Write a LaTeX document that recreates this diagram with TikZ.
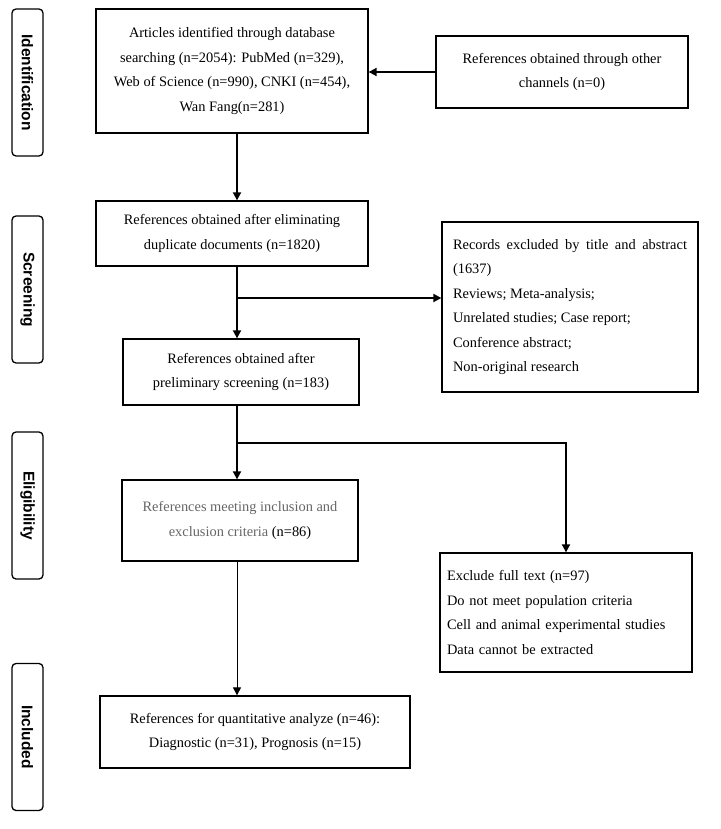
\documentclass[tikz,border=0pt]{standalone}
\usepackage{fontspec}
\setmainfont{Liberation Serif}
\newfontfamily\stagefont{Liberation Sans}
\usetikzlibrary{arrows.meta}
\begin{document}
\begin{tikzpicture}[x=1pt, y=-1pt,
    box/.style={draw, line width=1.3pt, inner sep=0pt, align=center,
        font=\fontsize{14.4}{24.5}\selectfont},
    stage/.style={draw, line width=1.3pt, rounded corners=4pt, rotate=-90,
        minimum width=147, minimum height=31, inner sep=0pt,
        font=\stagefont\bfseries\fontsize{15.5}{18}\selectfont},
    flow/.style={line width=1.8pt, -{Triangle[length=8pt,width=8pt]}},
    thinflow/.style={line width=0.9pt, -{Triangle[length=8pt,width=8pt]}}]
    \useasboundingbox (0,0) rectangle (720,829);
    % stages
    \node[stage] (ident) at (27.5,82.5) {Identification};
    \node[stage] (screen) at (27.5,289.5) {Screening};
    \node[stage] (elig) at (27.5,505.5) {Eligibility};
    \node[stage] (incl) at (27.5,737) {Included};
    % boxes
    \node[box, minimum width=272, minimum height=124] (search) at (232,71)
        {Articles identified through database\\searching (n=2054): PubMed (n=329),\\Web of Science (n=990), CNKI (n=454),\\Wan Fang(n=281)};
    \node[box, minimum width=252, minimum height=72] (other) at (562,72)
        {References obtained through other\\channels (n=0)};
    \node[box, minimum width=272, minimum height=65] (dedup) at (232,233.5)
        {References obtained after eliminating\\duplicate documents (n=1820)};
    \node[box, minimum width=236, minimum height=66] (prelim) at (241,372)
        {References obtained after\\preliminary screening (n=183)};
    \node[box, minimum width=256, minimum height=170, text width=234, align=justify] (titleex) at (570,307)
        {Records excluded by title and abstract (1637)\par Reviews; Meta-analysis;\par Unrelated studies; Case report;\par Conference abstract;\par Non-original research};
    \node[box, minimum width=236, minimum height=81, text=black!60] (eligible) at (240,520.5)
        {References meeting inclusion and\\exclusion criteria \textcolor{black}{(n=86)}};
    \node[box, minimum width=252, minimum height=119, text width=238, align=left] (fullex) at (566,612.5)
        {Exclude full text (n=97)\\Do not meet population criteria\\Cell and animal experimental studies\\Data cannot be extracted};
    \node[box, minimum width=310, minimum height=72] (final) at (255,732)
        {References for quantitative analyze (n=46):\\Diagnostic (n=31), Prognosis (n=15)};
    % connectors
    \coordinate (spine) at (237,0);
    \coordinate (split1) at (237,298);
    \coordinate (split2) at (237,443);
    \draw[flow] (other.west) -- (search.east |- other.west);
    \draw[flow] (search.south -| spine) -- (dedup.north -| spine);
    \draw[flow] (dedup.south -| spine) -- (prelim.north -| spine);
    \draw[flow] (split1) -- (split1 -| titleex.west);
    \draw[flow] (prelim.south -| spine) -- (eligible.north -| spine);
    \draw[flow] (split2) -| (fullex.north);
    \draw[thinflow] (eligible.south -| spine) -- (final.north -| spine);
\end{tikzpicture}
\end{document}
